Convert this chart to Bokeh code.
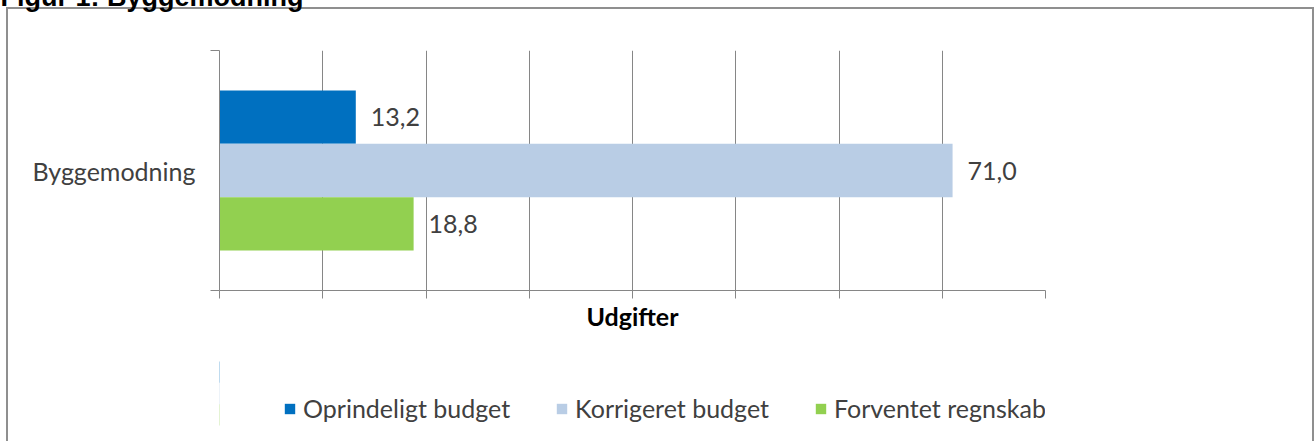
from bokeh.plotting import figure
from bokeh.layouts import column
from bokeh.models import (ColumnDataSource, Range1d, LinearAxis, FixedTicker, Legend,
                          LegendItem, Grid)
from bokeh.core.properties import value
from bokeh.embed import file_html
from bokeh.resources import INLINE

# ---- data ----
categories = ["Byggemodning"]
series_names = ["Oprindeligt budget", "Korrigeret budget", "Forventet regnskab"]
series_values = [13.2, 71.0, 18.8]
series_colors = ["#0070C0", "#B9CDE5", "#92D050"]
x_ticks = [0, 10, 20, 30, 40, 50, 60, 70, 80]
title_text = "Figur 1: Byggemodning"
x_label = "Udgifter"

# ---- layout ----
SHIFT = 61                      # canvas starts this many px above the page top
W = 1314
SPLIT = 345                     # page y where the legend strip starts
H1 = SPLIT + SHIFT
H2 = 441 - SPLIT
FL, FR = 219, 1045
FT, FB = 50 + SHIFT, 290 + SHIFT
GRAY = "#868686"
BORDER = "#8f8f8f"
TXT = "#404040"
FONT = "Lato"


def box_background(top, height):
    lines = []
    if top is not None:
        lines.append(f"linear-gradient({BORDER},{BORDER}) 6px {top}px / {W - 8}px 2px no-repeat")
    y0 = top if top is not None else 0
    lines.append(f"linear-gradient({BORDER},{BORDER}) 6px {y0}px / 2px {height}px no-repeat")
    lines.append(f"linear-gradient({BORDER},{BORDER}) {W - 2}px {y0}px / 2px {height}px no-repeat")
    lines.append("#ffffff")
    return ", ".join(lines)


ncat = len(categories)
cat_centers = [i + 0.5 for i in range(ncat)]

p = figure(width=W, height=H1,
           y_range=Range1d(0, ncat), x_range=Range1d(0, 80),
           output_backend="svg", toolbar_location=None,
           x_axis_location=None, y_axis_location=None,
           min_border_left=FL, min_border_right=W - FR,
           min_border_top=FT, min_border_bottom=H1 - FB)
p.center = []
p.margin = (-SHIFT, 0, 0, 0)
p.outline_line_color = None
p.background_fill_color = "white"
p.border_fill_color = None
p.styles = {"background": box_background(8 + SHIFT - 1, H1)}

# title (mostly cut off at top in reference)
p.title.text = title_text
p.title.align = "left"
p.title.offset = -FL
p.title.standoff = 77
p.title.text_font = "Liberation Sans"
p.title.text_font_style = "bold"
p.title.text_font_size = "27px"
p.title.text_color = "#000000"

# x axis: tick marks below the axis, no numbers, bold axis title
xaxis = LinearAxis(ticker=FixedTicker(ticks=x_ticks), axis_label=x_label)
xaxis.major_label_overrides = {t: "" for t in x_ticks}
xaxis.major_label_text_font_size = "0px"
xaxis.major_label_standoff = 0
xaxis.major_tick_in = 0
xaxis.major_tick_out = 8
xaxis.minor_tick_line_color = None
xaxis.axis_line_color = GRAY
xaxis.major_tick_line_color = GRAY
xaxis.axis_label_text_font = FONT
xaxis.axis_label_text_font_style = "bold"
xaxis.axis_label_text_font_size = "25px"
xaxis.axis_label_text_color = "#000000"
xaxis.axis_label_standoff = 2
p.add_layout(xaxis, "below")
p.add_layout(Grid(dimension=0, ticker=FixedTicker(ticks=x_ticks), grid_line_color=GRAY))

# y axis: category label at band centre, tick marks at band boundaries
yaxis = LinearAxis(ticker=FixedTicker(ticks=cat_centers,
                                      minor_ticks=list(range(ncat + 1))))
yaxis.major_label_overrides = {c: name for c, name in zip(cat_centers, categories)}
yaxis.major_tick_line_color = None
yaxis.major_tick_in = 0
yaxis.major_tick_out = 0
yaxis.minor_tick_in = 0
yaxis.minor_tick_out = 9
yaxis.minor_tick_line_color = GRAY
yaxis.axis_line_color = GRAY
yaxis.major_label_standoff = 15
yaxis.major_label_text_font = FONT
yaxis.major_label_text_font_size = "25px"
yaxis.major_label_text_color = TXT
p.add_layout(yaxis, "left")

# legend strip (second canvas, same chart box continues)
p2 = figure(width=W, height=H2, x_range=Range1d(100, 101), y_range=Range1d(0, ncat),
            output_backend="svg", toolbar_location=None, title_location=None,
            x_axis_location=None, y_axis_location=None,
            min_border_left=0, min_border_right=0, min_border_top=0, min_border_bottom=0)
p2.center = []
p2.outline_line_color = None
p2.background_fill_color = None
p2.border_fill_color = None
p2.styles = {"background": box_background(None, H2)}

# bars (top to bottom in series order)
bar_h = 0.2222
offsets = [bar_h, 0.0, -bar_h]
items = []
for name, val, col, off in zip(series_names, series_values, series_colors, offsets):
    src = ColumnDataSource(dict(y=[c + off for c in cat_centers], val=[val],
                                lab=[f"{val:.1f}".replace(".", ",")]))
    p.hbar(y="y", left=0, right="val", height=bar_h,
           fill_color=col, line_color=None, source=src)
    p.text(x="val", y="y", text="lab", source=src,
           x_offset=15, text_baseline="middle", text_align="left",
           text_font=value(FONT), text_font_size="25px", text_color=TXT)
    # same series in the legend strip (outside its visible x range) for the legend swatch
    r2 = p2.hbar(y="y", left=0, right="val", height=bar_h,
                 fill_color=col, line_color=None, source=src)
    items.append(LegendItem(label=name, renderers=[r2]))

legend = Legend(items=items, orientation="horizontal", location=(64, 18),
                glyph_width=13, glyph_height=13, label_standoff=7, spacing=45,
                padding=0, margin=0, border_line_color=None, background_fill_alpha=0,
                label_text_font=FONT, label_text_font_size="25px", label_text_color=TXT)
p2.add_layout(legend, "center")

layout = column(p, p2, spacing=0)
open("out.html", "w").write(file_html(layout, INLINE))
